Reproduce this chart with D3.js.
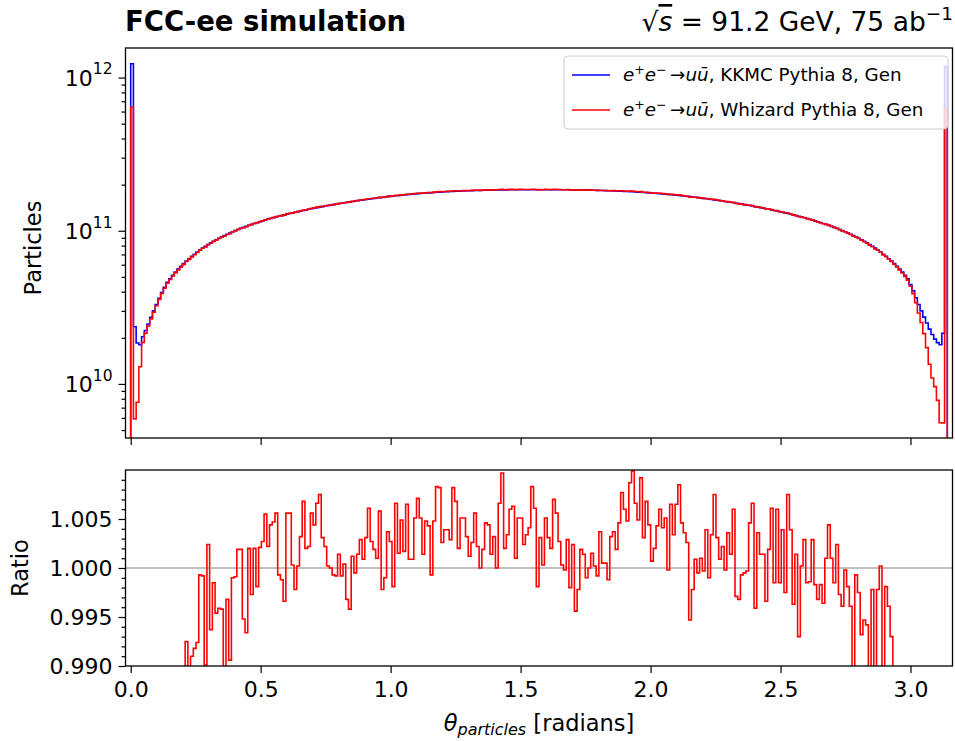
<!DOCTYPE html>
<html>
<head>
<meta charset="utf-8">
<script src="https://cdn.jsdelivr.net/npm/d3@7"></script>
<style>
body { margin: 0; background: #fff; }
svg text { font-family: "DejaVu Sans", sans-serif; fill: #000; }
</style>
</head>
<body>
<div id="chart"></div>
<script>
// histogram binning: 300 bins over [0, pi]
var nBins = 300;
var thetaRange = [0, Math.PI];

// KKMC Pythia 8 counts per bin, in units of 1e9 particles
var kkmc = [
  1230, 23.6, 18.5, 18.0, 20.3, 22.3, 24.6, 27.2, 30.0, 33.0, 36.2, 39.5, 42.8, 46.0,
  48.6, 51.2, 53.7, 56.2, 58.6, 61.0, 63.4, 65.7, 68.0, 70.3, 72.6, 74.8, 77.0, 79.1, 81.2, 83.3,
  85.3, 87.3, 89.3, 91.2, 93.1, 94.9, 96.7, 98.5, 100.2, 101.9,
  103.6, 105.2, 106.8, 108.4, 110.0, 111.5, 113.0, 114.5, 116.0, 117.4, 118.8, 120.2, 121.6, 123.0,
  124.3, 125.6, 126.9, 128.2, 129.5, 130.8, 132.1, 133.3, 134.5, 135.7, 136.9, 138.1, 139.3, 140.5,
  141.6, 142.7, 143.8, 144.9, 146.0, 147.1, 148.2, 149.3, 150.3, 151.3, 152.3, 153.3,
  154.3, 155.3, 156.3, 157.3, 158.2, 159.1, 160.0, 160.9, 161.8, 162.7, 163.6, 164.5, 165.3, 166.1,
  166.9, 167.7, 168.5, 169.3, 170.0, 170.7, 171.4, 172.1, 172.8, 173.4, 174.0, 174.6, 175.2, 175.8,
  176.3, 176.8, 177.3, 177.8, 178.3, 178.8, 179.2, 179.6, 180.0, 180.4, 180.8, 181.1,
  181.4, 181.7, 182.0, 182.3, 182.6, 182.9, 183.1, 183.3, 183.5, 183.7, 183.9, 184.1, 184.3, 184.4,
  184.5, 184.6, 184.7, 184.8, 184.9, 185.0, 185.1, 185.1, 185.2, 185.2, 185.3, 185.2, 185.3, 185.2,
  185.3, 185.2,
  185.2, 185.3, 185.2, 185.3, 185.2, 185.3, 185.2, 185.2, 185.1, 185.1, 185.0, 184.9, 184.8, 184.7,
  184.6, 184.5, 184.4, 184.3, 184.1, 183.9, 183.7, 183.5, 183.3, 183.1, 182.9, 182.6, 182.3, 182.0,
  181.7, 181.4,
  181.1, 180.8, 180.4, 180.0, 179.6, 179.2, 178.8, 178.3, 177.8, 177.3, 176.8, 176.3, 175.8, 175.2,
  174.6, 174.0, 173.4, 172.8, 172.1, 171.4, 170.7, 170.0, 169.3, 168.5, 167.7, 166.9, 166.1, 165.3,
  164.5, 163.6, 162.7, 161.8, 160.9, 160.0, 159.1, 158.2, 157.3, 156.3, 155.3, 154.3,
  153.3, 152.3, 151.3, 150.3, 149.3, 148.2, 147.1, 146.0, 144.9, 143.8, 142.7, 141.6, 140.5, 139.3,
  138.1, 136.9, 135.7, 134.5, 133.3, 132.1, 130.8, 129.5, 128.2, 126.9, 125.6, 124.3, 123.0, 121.6,
  120.2, 118.8, 117.4, 116.0, 114.5, 113.0, 111.5, 110.0, 108.4, 106.8, 105.2, 103.6,
  101.9, 100.2, 98.5, 96.7, 94.9, 93.1, 91.2, 89.3, 87.3, 85.3, 83.3, 81.2, 79.1, 77.0, 74.8, 72.6,
  70.3, 68.0, 65.7, 63.4, 61.0, 58.6, 56.2, 53.7, 51.2, 48.6,
  44.5, 40.5, 36.5, 33.0, 30.0, 27.3, 25.0, 22.8, 21.0, 19.6, 18.6, 18.0, 21.4, 1180
];

// Whizard / KKMC ratio per bin
var ratio = [
  0.52, 0.25, 0.41, 0.72, 0.92, 0.96, 0.97, 0.975, 0.979, 0.982, 0.984, 0.985, 0.986, 0.987,
  0.988, 0.9885, 0.989, 0.9885, 0.989, 0.9893,
  0.9925, 0.9898, 0.9910, 0.9918, 0.9924, 0.9993, 0.9992, 0.9901, 1.0024, 0.9937,
  0.9985, 0.9954, 0.9959, 0.9958, 0.9897, 0.9968, 0.9906, 0.9990, 0.9991, 1.0019,
  1.0019, 0.9948, 0.9934, 1.0020, 0.9973, 1.0020, 0.9981, 1.0021, 1.0027, 1.0055,
  1.0022, 1.0044, 1.0047, 1.0056, 0.9993, 0.9988, 0.9966, 1.0056, 1.0056, 1.0003,
  0.9978, 1.0002, 1.0032, 1.0068, 1.0020, 1.0022, 1.0056, 1.0044, 1.0066, 1.0075,
  1.0031, 1.0022, 1.0002, 1.0000, 0.9993, 0.9992, 1.0014, 0.9992, 1.0004, 0.9968,
  0.9958, 1.0012, 0.9995, 1.0014, 1.0029, 1.0009, 1.0031, 1.0061, 1.0027, 1.0019,
  1.0010, 1.0058, 0.9978, 0.9990, 1.0037, 1.0027, 0.9981, 1.0066, 1.0015, 1.0049,
  1.0017, 1.0065, 1.0009, 1.0009, 1.0051, 1.0071, 1.0051, 1.0014, 1.0048, 1.0043,
  0.9993, 1.0048, 1.0083, 1.0082, 1.0026, 1.0039, 1.0039, 1.0029, 1.0082, 1.0068,
  1.0020, 1.0051, 1.0051, 1.0032, 1.0012, 1.0026, 1.0056, 1.0022, 1.0000, 1.0019,
  1.0046, 1.0044, 1.0014, 1.0032, 1.0000, 1.0066, 1.0097, 1.0020, 1.0034, 1.0060,
  1.0063, 1.0010, 1.0051, 1.0051, 1.0024, 1.0034, 1.0041, 1.0083, 1.0061, 0.9981,
  1.0031, 1.0003, 1.0051, 1.0031, 1.0020, 1.0070, 1.0056, 1.0027, 1.0003, 0.9998,
  1.0029, 0.9980, 1.0024, 0.9956, 0.9978, 1.0019, 1.0014, 0.9990, 1.0000, 1.0015,
  1.0002, 0.9992, 1.0037, 1.0005, 1.0005, 0.9988, 1.0032, 1.0037, 1.0019, 1.0046,
  1.0077, 1.0060, 1.0048, 1.0087, 1.0099, 1.0066, 1.0049, 1.0092, 1.0031, 1.0068,
  1.0044, 1.0007, 1.0020, 1.0043, 1.0060, 1.0041, 1.0051, 0.9998, 1.0065, 1.0034,
  1.0065, 1.0085, 1.0046, 1.0036, 1.0026, 0.9947, 0.9978, 1.0009, 0.9995, 1.0010,
  0.9997, 1.0039, 0.9990, 1.0034, 1.0075, 1.0031, 1.0009, 1.0022, 0.9998, 1.0036,
  1.0014, 1.0060, 0.9971, 0.9968, 0.9993, 0.9995, 0.9997, 1.0046, 1.0066, 0.9959,
  1.0036, 1.0014, 1.0014, 0.9966, 1.0019, 1.0061, 0.9985, 1.0060, 0.9985, 1.0039,
  0.9975, 1.0075, 1.0039, 0.9963, 1.0014, 0.9930, 1.0002, 1.0029, 0.9985, 0.9986,
  1.0029, 0.9983, 0.9968, 0.9983, 0.9964, 1.0010, 1.0044, 1.0010, 0.9985, 1.0024,
  0.9973, 0.9961, 0.9998, 0.9981, 0.9961, 0.9899, 0.9993, 0.9975, 0.9932, 0.9947,
  0.9942, 0.9897, 0.9978, 0.9895, 0.9978, 1.0002, 0.9896, 0.9981, 0.9961, 0.9930,
  0.9896, 0.9885, 0.988, 0.986, 0.984, 0.98, 0.975, 0.96, 0.93, 0.88,
  0.84, 0.78, 0.69, 0.59, 0.52, 0.49, 0.42, 0.31, 0.26, 0.53
];

var xTicks = [0, 0.5, 1, 1.5, 2, 2.5, 3];
var yTicksTop = [1e10, 1e11, 1e12];
var yTicksRatio = [0.990, 0.995, 1.000, 1.005];
var seriesNames = ["KKMC Pythia 8, Gen", "Whizard Pythia 8, Gen"];
var seriesColors = ["blue", "red"];

var width = 955, height = 741;
var left = 125.5, right = 952.5;
var top1 = 48, bot1 = 438, top2 = 470, bot2 = 666;
var tickFont = 22;

var svg = d3.select("#chart").append("svg")
    .attr("width", width)
    .attr("height", height);

var x = d3.scaleLinear().domain([-0.02, Math.PI + 0.02]).range([left, right]);
var y = d3.scaleLog().domain([Math.pow(10, 9.647), Math.pow(10, 12.193)]).range([bot1, top1]);
var yr = d3.scaleLinear().domain([0.99, 1.01]).range([bot2, top2]);

var edges = d3.range(nBins + 1).map(function(i) {
  return thetaRange[0] + (thetaRange[1] - thetaRange[0]) * i / nBins;
});

var kkmcCounts = kkmc.map(function(v) { return v * 1e9; });
var whizCounts = kkmc.map(function(v, i) { return v * 1e9 * ratio[i]; });

// step points: start and end on the baseline (below the visible range)
function stepPoints(vals) {
  var pts = [{x: edges[0], v: null}];
  vals.forEach(function(v, i) { pts.push({x: edges[i], v: v}); });
  pts.push({x: edges[nBins], v: vals[nBins - 1]});
  pts.push({x: edges[nBins], v: null});
  return pts;
}

var defs = svg.append("defs");
defs.append("clipPath").attr("id", "clip-top").append("rect")
    .attr("x", left).attr("y", top1).attr("width", right - left).attr("height", bot1 - top1);
defs.append("clipPath").attr("id", "clip-ratio").append("rect")
    .attr("x", left).attr("y", top2).attr("width", right - left).attr("height", bot2 - top2);

var lineTop = d3.line()
    .x(function(d) { return x(d.x); })
    .y(function(d) { return d.v == null ? bot1 + 20 : y(d.v); })
    .curve(d3.curveStepAfter);

var lineRatio = d3.line()
    .x(function(d) { return x(d.x); })
    .y(function(d) { return d.v == null ? bot2 + 20 : Math.max(top2 - 20, Math.min(bot2 + 20, yr(d.v))); })
    .curve(d3.curveStepAfter);

// ---- top panel ----
var gTop = svg.append("g").attr("clip-path", "url(#clip-top)");
[kkmcCounts, whizCounts].forEach(function(vals, k) {
  gTop.append("path")
      .attr("d", lineTop(stepPoints(vals)))
      .attr("fill", "none")
      .attr("stroke", seriesColors[k])
      .attr("stroke-width", 1.6);
});

// ---- ratio panel ----
var gR = svg.append("g").attr("clip-path", "url(#clip-ratio)");
gR.append("line")
    .attr("x1", left).attr("x2", right)
    .attr("y1", yr(1)).attr("y2", yr(1))
    .attr("stroke", "gray").attr("stroke-width", 1);
gR.append("path")
    .attr("d", lineRatio(stepPoints(ratio)))
    .attr("fill", "none")
    .attr("stroke", "red")
    .attr("stroke-width", 1.6);

// ---- axes ----
function styleAxis(g) {
  g.select(".domain").remove();
  g.selectAll(".tick line").attr("stroke", "#000").attr("stroke-width", 1.2);
  g.selectAll(".tick text").attr("font-family", "DejaVu Sans").attr("font-size", tickFont).attr("fill", "#000");
}

svg.append("g").attr("transform", "translate(0," + bot1 + ")")
    .call(d3.axisBottom(x).tickValues(xTicks).tickSize(7).tickFormat(""))
    .call(styleAxis);

svg.append("g").attr("transform", "translate(0," + bot2 + ")")
    .call(d3.axisBottom(x).tickValues(xTicks).tickSize(7).tickPadding(8).tickFormat(d3.format(".1f")))
    .call(styleAxis);

var minorLog = [];
[1e9, 1e10, 1e11, 1e12].forEach(function(p) {
  for (var m = 2; m <= 9; m++) {
    var v = m * p;
    if (v > y.domain()[0] && v < y.domain()[1]) minorLog.push(v);
  }
});
svg.append("g").attr("transform", "translate(" + left + ",0)")
    .call(d3.axisLeft(y).tickValues(minorLog).tickSize(4).tickFormat(""))
    .call(styleAxis);

var gy = svg.append("g").attr("transform", "translate(" + left + ",0)")
    .call(d3.axisLeft(y).tickValues(yTicksTop).tickSize(7).tickFormat(""))
    .call(styleAxis);
gy.selectAll(".tick").each(function(d) {
  var t = d3.select(this).append("text")
      .attr("x", -13).attr("dy", "0.36em")
      .attr("text-anchor", "end")
      .attr("font-size", tickFont);
  t.append("tspan").text("10");
  t.append("tspan").attr("font-size", 15.5).attr("dy", "-0.75em").text(Math.round(Math.log10(d)));
});

var minorRatio = d3.range(0, 21).map(function(i) { return 0.99 + i * 0.001; })
    .filter(function(v) { return Math.abs(Math.round(v * 200) - v * 200) > 1e-6; });
svg.append("g").attr("transform", "translate(" + left + ",0)")
    .call(d3.axisLeft(yr).tickValues(minorRatio).tickSize(4).tickFormat(""))
    .call(styleAxis);
svg.append("g").attr("transform", "translate(" + left + ",0)")
    .call(d3.axisLeft(yr).tickValues(yTicksRatio).tickSize(7).tickPadding(6).tickFormat(d3.format(".3f")))
    .call(styleAxis);

// frames
[[top1, bot1], [top2, bot2]].forEach(function(p) {
  svg.append("rect")
      .attr("x", left).attr("y", p[0])
      .attr("width", right - left).attr("height", p[1] - p[0])
      .attr("fill", "none").attr("stroke", "#000").attr("stroke-width", 1.3);
});

// ---- legend ----
var lg = svg.append("g");
lg.append("rect")
    .attr("x", 564).attr("y", 56).attr("width", 384).attr("height", 73).attr("rx", 4)
    .attr("fill", "#fff").attr("fill-opacity", 0.8)
    .attr("stroke", "#ccc").attr("stroke-width", 1);
seriesNames.forEach(function(name, k) {
  var ly = 75 + k * 35;
  lg.append("line")
      .attr("x1", 572).attr("x2", 610).attr("y1", ly).attr("y2", ly)
      .attr("stroke", seriesColors[k]).attr("stroke-width", 1.6);
  var t = lg.append("text").attr("x", 623).attr("y", ly + 6).attr("font-size", 18.3);
  t.append("tspan").attr("font-style", "italic").text("e");
  t.append("tspan").attr("font-size", 12.5).attr("dy", -7).text("+");
  t.append("tspan").attr("font-style", "italic").attr("dy", 7).text("e");
  t.append("tspan").attr("font-size", 12.5).attr("dy", -7).text("\u2212");
  t.append("tspan").attr("dy", 7).text("\u2009\u2192");
  t.append("tspan").attr("font-style", "italic").text("u\u016B");
  t.append("tspan").text(", " + name);
});

// ---- titles and labels ----
svg.append("text").attr("x", 125).attr("y", 31)
    .attr("font-size", 27.5).attr("font-weight", "bold")
    .text("FCC-ee simulation");

var rt = svg.append("text").attr("x", 953).attr("y", 31)
    .attr("text-anchor", "end").attr("font-size", 26.5);
rt.append("tspan").text("\u221A");
rt.append("tspan").attr("font-style", "italic").style("text-decoration", "overline").text("s");
rt.append("tspan").text(" = 91.2 GeV, 75 ab");
rt.append("tspan").attr("font-size", 18.5).attr("dy", -11).text("\u22121");

svg.append("text")
    .attr("transform", "translate(41," + ((top1 + bot1) / 2 + 5) + ") rotate(-90)")
    .attr("text-anchor", "middle").attr("font-size", 22.5)
    .text("Particles");

svg.append("text")
    .attr("transform", "translate(28," + ((top2 + bot2) / 2) + ") rotate(-90)")
    .attr("text-anchor", "middle").attr("font-size", 22.5)
    .text("Ratio");

var xl = svg.append("text").attr("x", (left + right) / 2).attr("y", 731)
    .attr("text-anchor", "middle").attr("font-size", 22.5);
xl.append("tspan").attr("font-style", "italic").text("\u03B8");
xl.append("tspan").attr("font-style", "italic").attr("font-size", 16).attr("dy", 4).text("particles");
xl.append("tspan").attr("dy", -4).text(" [radians]");
</script>
</body>
</html>
